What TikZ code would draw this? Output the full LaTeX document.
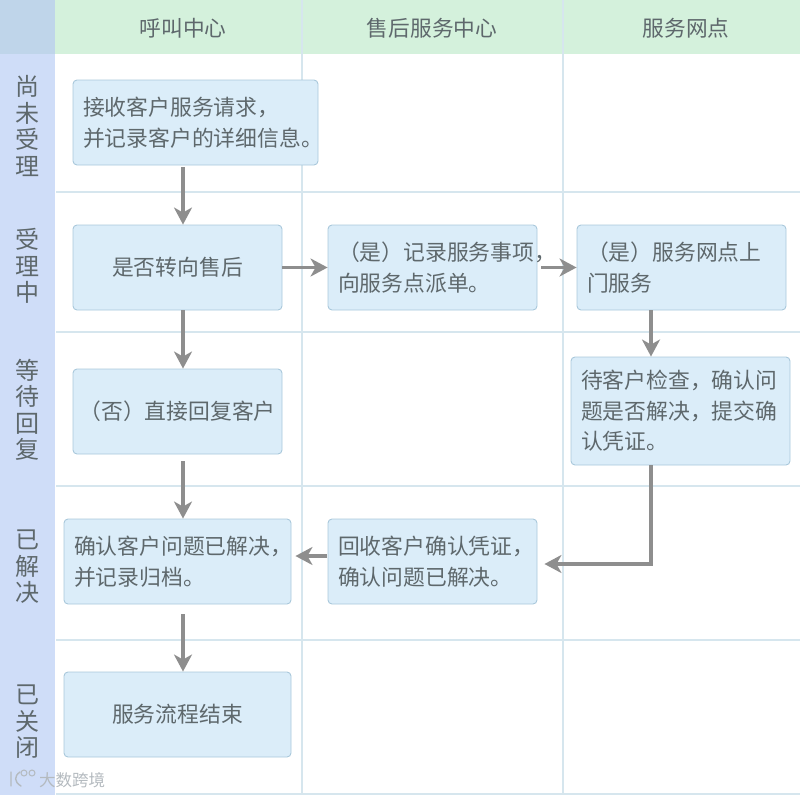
\documentclass[tikz,border=0pt]{standalone}
\usepackage{fontspec}
\usepackage{xcolor}
\setmainfont{Noto Sans CJK SC}
\usetikzlibrary{arrows.meta, positioning, calc}
\definecolor{laneline}{HTML}{D6E6EE}
\definecolor{headgreen}{HTML}{D4F1DC}
\definecolor{headblue}{HTML}{CFDDF8}
\definecolor{headcorner}{HTML}{BFD5EA}
\definecolor{boxfill}{HTML}{DBEDF9}
\definecolor{boxline}{HTML}{A9C8DB}
\definecolor{flowgray}{HTML}{8E8E8E}
\definecolor{inkgray}{HTML}{5E686C}
\definecolor{brandgray}{HTML}{B4BABF}

\begin{document}
\begin{tikzpicture}[
    x=1pt, y=-1pt,
    % Cajas del proceso
    procbox/.style = {
        rectangle,
        draw=boxline,
        fill=boxfill,
        line width=0.9pt,
        rounded corners=4pt,
        minimum height=85pt,
        inner xsep=10pt,
        inner ysep=0pt,
        text=inkgray,
        font=\fontsize{21.8}{30.5}\selectfont
    },
    % Titulos de columna
    colhead/.style = {
        text=inkgray,
        font=\fontsize{21.7}{26}\selectfont
    },
    % Titulos de fila
    rowhead/.style = {
        align=center,
        text=inkgray,
        inner sep=0pt,
        font=\fontsize{24}{26.5}\selectfont
    },
    gridline/.style = {draw=laneline, line width=2pt},
    % Flechas
    flow/.style = {
        draw=flowgray,
        line width=3.2pt,
        -{Stealth[length=17pt, width=18pt, inset=5pt]}
    }
]

    % --- FONDO ---
    \path [use as bounding box] (0,0) rectangle (800,795);
    \fill [headgreen] (55,0) rectangle (800,54);
    \fill [headblue] (0,54) rectangle (55,795);
    \fill [headcorner] (0,0) rectangle (55,54);

    % Rejilla
    \foreach \ypos in {192,332,486,640,794}
        \draw [gridline] (56,\ypos) -- (800,\ypos);
    \foreach \xpos in {302,563}
        \draw [gridline] (\xpos,0) -- (\xpos,795);

    % --- TITULOS ---
    \node [colhead] (callhead) at (183,28) {呼叫中心};
    \node [colhead] (salehead) at (432,28) {售后服务中心};
    \node [colhead] (sitehead) at (686,28) {服务网点};

    \node [rowhead] (row1) at (28,126) {尚\\未\\受\\理};
    \node [rowhead] (row2) at (28,266) {受\\理\\中};
    \node [rowhead] (row3) at (28,410) {等\\待\\回\\复};
    \node [rowhead] (row4) at (28,567) {已\\解\\决};
    \node [rowhead] (row5) at (28,722) {已\\关\\闭};

    % --- NODOS ---
    \node [procbox, text width=225pt, align=left] (accept) at (195.5,122.5)
        {接收客户服务请求，\\并记录客户的详细信息。};
    \node [procbox, minimum width=209pt, align=center] (transfer) at (177.5,267.5)
        {是否转向售后};
    \node [procbox, text width=189pt, align=left] (record) at (432.5,267.5)
        {（是）记录服务事项，\\向服务点派单。};
    \node [procbox, text width=189pt, align=left] (visit) at (681.5,267.5)
        {（是）服务网点上\\门服务};
    \node [procbox, minimum width=209pt, inner xsep=5pt, align=center] (reply) at (177.5,411.5)
        {（否）直接回复客户};
    \node [procbox, text width=199pt, align=left, minimum height=108pt] (check) at (680.5,411)
        {待客户检查，确认问\\题是否解决，提交确\\认凭证。};
    \node [procbox, text width=207pt, align=left] (archive) at (177.5,561.5)
        {确认客户问题已解决，\\并记录归档。};
    \node [procbox, text width=189pt, align=left] (collect) at (432.5,561.5)
        {回收客户确认凭证，\\确认问题已解决。};
    \node [procbox, minimum width=227pt, align=center] (finish) at (177.5,714.5)
        {服务流程结束};

    % --- CONEXIONES ---
    \draw [flow, shorten <=2pt] ([xshift=-12.5pt]accept.south) -- ([xshift=5.5pt]transfer.north);
    \draw [flow] (transfer.east) -- (record.west);
    \draw [flow, shorten <=4pt] (record.east) -- (visit.west);
    \draw [flow] ([xshift=-30.5pt]visit.south) -- ([xshift=-29.5pt]check.north);
    \draw [flow] ([xshift=5.5pt]transfer.south) -- ([xshift=5.5pt]reply.north);
    \draw [flow, shorten <=7pt] ([xshift=5.5pt]reply.south) -- ([xshift=5.5pt]archive.north);
    \draw [flow, shorten <=10pt] ([xshift=5.5pt]archive.south) -- ([xshift=5.5pt]finish.north);
    \draw [flow, shorten >=7pt] ([xshift=-29.5pt]check.south) |- ([yshift=-2.5pt]collect.east);
    \draw [flow, shorten <=1pt, shorten >=4pt] ([yshift=5.5pt]collect.west) -- ([yshift=5.5pt]archive.east);

    % --- MARCA DE AGUA ---
    \node [text=brandgray, font=\fontsize{16.5}{18}\selectfont, inner sep=0pt] (brand) at (72,780) {大数跨境};
    \draw [brandgray, line width=1.4pt, line cap=round]
        (11,772) -- (11,786) (20,772) .. controls (14,776) and (14,782) .. (21,786);
    \draw [brandgray, line width=1pt] (24,773) circle (3pt) (32,773) circle (3pt);

\end{tikzpicture}
\end{document}
